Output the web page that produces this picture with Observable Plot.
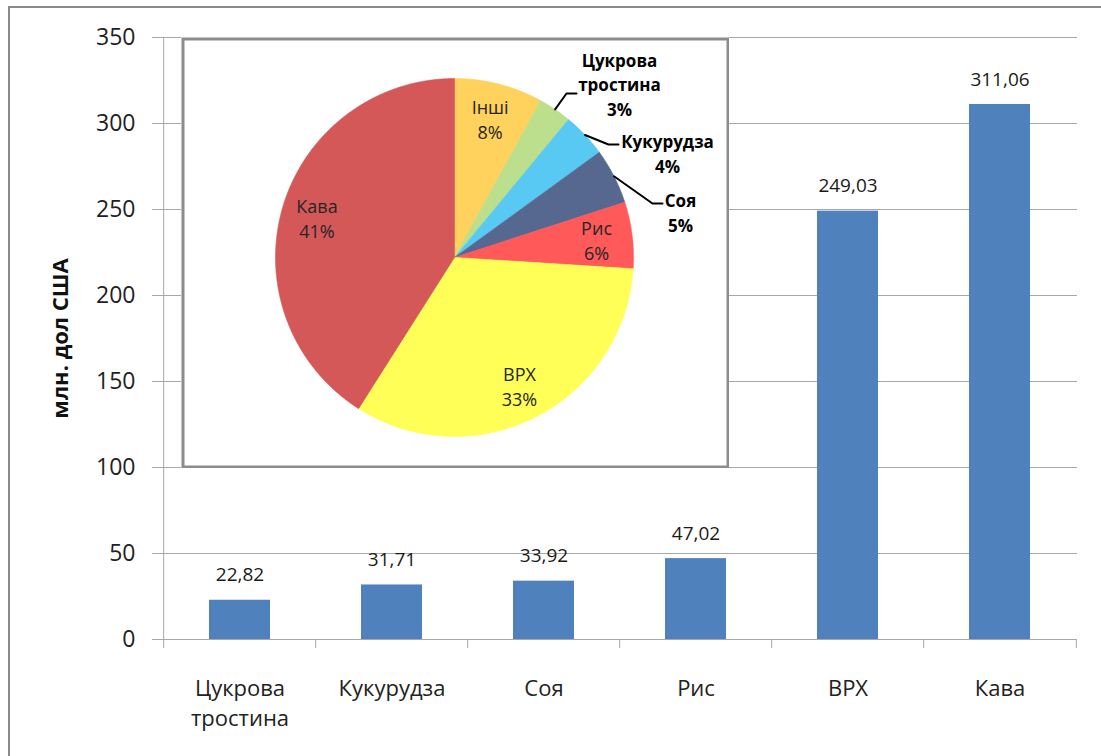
<!DOCTYPE html>
<html><head><meta charset="utf-8">
<script src="https://cdn.jsdelivr.net/npm/d3@7"></script>
<script src="https://cdn.jsdelivr.net/npm/@observablehq/plot@0.6"></script>
<style>
html,body{margin:0;padding:0;background:#fff;overflow:hidden;}
#wrap{position:relative;width:1101px;height:756px;overflow:hidden;background:#fff;}
#outer{position:absolute;left:8px;top:6px;width:1200px;height:900px;border:2.5px solid #8a8a8a;box-sizing:border-box;}
#main{position:absolute;left:0;top:0;}
#pie{position:absolute;left:181px;top:37px;}
</style></head>
<body><div id="wrap"><div id="outer"></div><div id="main"></div><div id="pie"></div></div>
<script>
// ---- data ----
const categories = ["Цукрова\nтростина", "Кукурудза", "Соя", "Рис", "ВРХ", "Кава"];
const values = [22.82, 31.71, 33.92, 47.02, 249.03, 311.06];
const valueLabels = ["22,82", "31,71", "33,92", "47,02", "249,03", "311,06"];
const yTicks = [0, 50, 100, 150, 200, 250, 300, 350];
const yTitle = "млн. дол США";

const pieNames = ["Інші", "Цукрова\nтростина", "Кукурудза", "Соя", "Рис", "ВРХ", "Кава"];
const pieShares = [8, 3, 4, 5, 6, 33, 41];
const pieColors = ["#fed25c", "#bbdf8c", "#57c9f2", "#56688f", "#ff5959", "#ffff57", "#d45858"];
const pieOutside = [false, true, true, true, false, false, false];

// ---- layout (pixels) ----
const W = 1101, H = 756, mL = 161, mR = 24, mT = 37, mB = 117;
const step = (W - mL - mR) / categories.length;
const font = "'Open Sans', 'Noto Sans', sans-serif";
const grey = "#a8a8a8";

const bars = categories.map((cat, i) => ({cat, value: values[i], label: valueLabels[i]}));

const main = Plot.plot({
  width: W, height: H,
  marginLeft: mL, marginRight: mR, marginTop: mT, marginBottom: mB,
  style: {fontFamily: font, background: "transparent", overflow: "visible"},
  x: {domain: categories, paddingInner: 0.6, paddingOuter: 0.3, label: null},
  y: {domain: [0, 350], label: null},
  marks: [
    Plot.gridY(yTicks, {stroke: grey, strokeOpacity: 1}),
    Plot.axisY(yTicks, {tickSize: 9, tickPadding: 17, fontSize: 23, stroke: grey, fill: "#222", label: null}),
    Plot.axisX({tickSize: 0, tickPadding: 35, fontSize: 22, lineHeight: 1.36, fill: "#222", label: null}),
    Plot.ruleY([0], {stroke: grey}),
    // y axis line (extends below as first boundary tick)
    Plot.ruleX([categories[0]], {dx: -step / 2, stroke: grey, insetBottom: -9}),
    // category boundary ticks
    Plot.ruleX(categories.slice(1), {dx: -step / 2, stroke: grey, insetTop: H - mT - mB, insetBottom: -9}),
    Plot.ruleX([categories[categories.length - 1]], {dx: step / 2, stroke: grey, insetTop: H - mT - mB, insetBottom: -9}),
    Plot.barY(bars, {x: "cat", y: "value", fill: "#4f81bd"}),
    Plot.text(bars, {x: "cat", y: "value", text: "label", dy: -25, lineAnchor: "middle", fontSize: 19, fill: "#1a1a1a"}),
    Plot.text([yTitle], {text: d => d, frameAnchor: "left", dx: -101, rotate: -90, textAnchor: "middle",
      lineAnchor: "middle", fontWeight: "bold", fontSize: 22, fill: "#111"})
  ]
});
document.getElementById("main").appendChild(main);

// ---- pie inset ----
const PW = 548, PH = 431, R = 179, cx = 273, cy = 220;
const pieData = pieNames.map((name, i) => ({name, share: pieShares[i], color: pieColors[i], outside: pieOutside[i]}));
const arcs = d3.pie().sort(null).value(d => d.share)(pieData);

const slicePts = arcs.flatMap(a => {
  const n = Math.max(8, Math.ceil((a.endAngle - a.startAngle) / 0.005));
  const base = {name: a.data.name, color: a.data.color};
  const pts = [{...base, x: 0, y: 0}];
  for (let i = 0; i <= n; i++) {
    const t = a.startAngle + (a.endAngle - a.startAngle) * i / n;
    pts.push({...base, x: Math.sin(t), y: Math.cos(t)});
  }
  pts.push({...base, x: 0, y: 0});
  return pts;
});

const mid = a => (a.startAngle + a.endAngle) / 2;
const insideR = 0.8;
const inside = arcs.filter(a => !a.data.outside).map(a => ({
  x: insideR * Math.sin(mid(a)), y: insideR * Math.cos(mid(a)),
  text: a.data.name + "\n" + a.data.share + "%"
}));

// callout placement: pixel offsets from pie centre (label centre, leader end)
const callouts = {
  "Цукрова\nтростина": {label: [165, -174], end: [122, -164]},
  "Кукурудза": {label: [213, -105], end: [164, -113]},
  "Соя": {label: [226, -46], end: [208, -54]}
};
const outArcs = arcs.filter(a => a.data.outside);
const outside = outArcs.map(a => {
  const c = callouts[a.data.name];
  return {x: c.label[0] / R, y: -c.label[1] / R, text: a.data.name + "\n" + a.data.share + "%"};
});
const leaders = outArcs.flatMap(a => {
  const c = callouts[a.data.name];
  const m = mid(a);
  return [
    {name: a.data.name, x: Math.sin(m), y: Math.cos(m)},
    {name: a.data.name, x: (c.end[0] - 10) / R, y: -c.end[1] / R},
    {name: a.data.name, x: c.end[0] / R, y: -c.end[1] / R}
  ];
});

const pie = Plot.plot({
  width: PW, height: PH,
  marginLeft: 1.5, marginRight: 1.5, marginTop: 1.5, marginBottom: 1.5,
  style: {fontFamily: font, background: "white"},
  x: {domain: [-1, 1], range: [cx - R, cx + R], axis: null},
  y: {domain: [-1, 1], range: [cy + R, cy - R], axis: null},
  color: {type: "identity"},
  marks: [
    Plot.frame({stroke: "#8c8c8c", strokeWidth: 3}),
    Plot.line(slicePts, {x: "x", y: "y", z: "name", fill: "color", stroke: "color", strokeWidth: 0.6, curve: "linear"}),
    Plot.line(leaders, {x: "x", y: "y", z: "name", stroke: "#000", strokeWidth: 2}),
    Plot.text(inside, {x: "x", y: "y", text: "text", fontSize: 18, lineHeight: 1.4, fill: "#262626"}),
    Plot.text(outside, {x: "x", y: "y", text: "text", fontSize: 17, lineHeight: 1.45, fontWeight: "bold", fill: "#000"})
  ]
});
document.getElementById("pie").appendChild(pie);
</script>
</body></html>
